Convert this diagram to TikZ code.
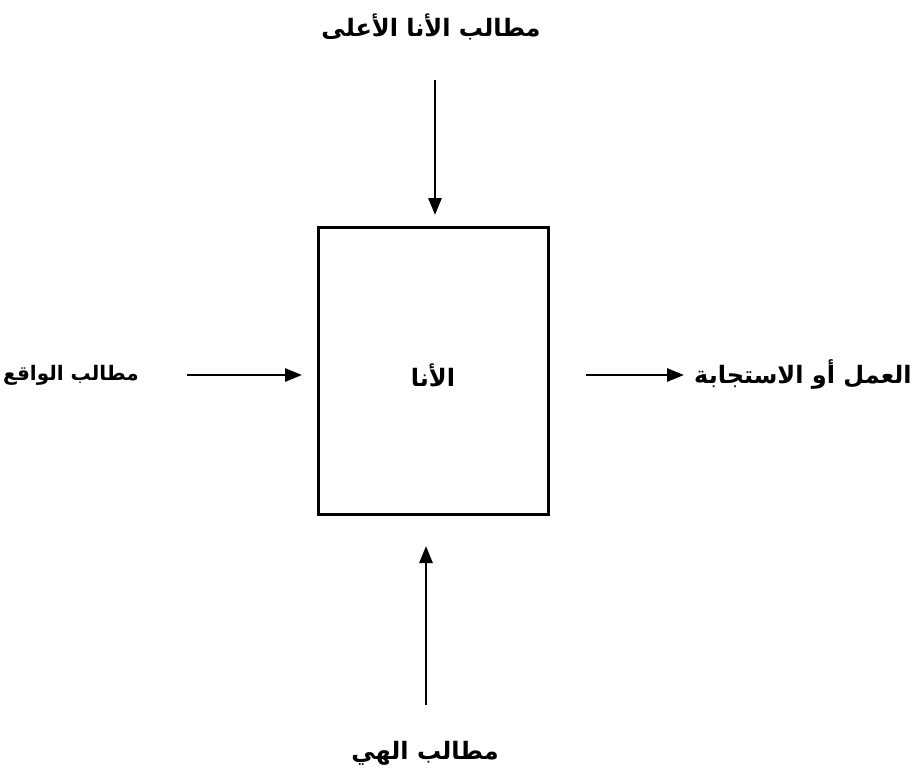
\documentclass[tikz,border=0pt]{standalone}
\usepackage{fontspec}
\newfontfamily\arabicfont[Script=Arabic]{DejaVu Sans}
\TeXXeTstate=1
\usetikzlibrary{arrows.meta}
\begin{document}
\begin{tikzpicture}[x=1pt,y=-1pt,
  lbl/.style={inner sep=0pt,font=\arabicfont\bfseries\fontsize{24}{28}\selectfont},
  egobox/.style={draw,line width=3pt,minimum width=230pt,minimum height=287pt,inner sep=0pt},
  arr/.style={line width=2.8pt,-{Triangle[length=17pt,width=13pt]}}]
\useasboundingbox (0,0) rectangle (924,777);
\node[egobox] (ego) at (433,370.5) {};
\node[lbl] (egot) at (433,375) {\beginR الأنا\endR};
\node[lbl] (top) at (431,27) {\beginR مطالب الأنا الأعلى\endR};
\node[lbl,font=\arabicfont\bfseries\fontsize{20}{24}\selectfont] (left) at (71,375) {\beginR مطالب الواقع\endR};
\node[lbl,anchor=west] (right) at (694,375) {\beginR العمل أو الاستجابة\endR};
\node[lbl] (bottom) at (425,753) {\beginR مطالب الهي\endR};
\coordinate (ta) at (435,80);
\coordinate (tb) at (435,215);
\coordinate (la) at (187,375);
\coordinate (lb) at (302,375);
\coordinate (ra) at (586,375);
\coordinate (rb) at (684,375);
\coordinate (ba) at (426,705);
\coordinate (bb) at (426,546);
\draw[arr] (ta) -- (tb);
\draw[arr] (la) -- (lb);
\draw[arr] (ra) -- (rb);
\draw[arr] (ba) -- (bb);
\end{tikzpicture}
\end{document}
